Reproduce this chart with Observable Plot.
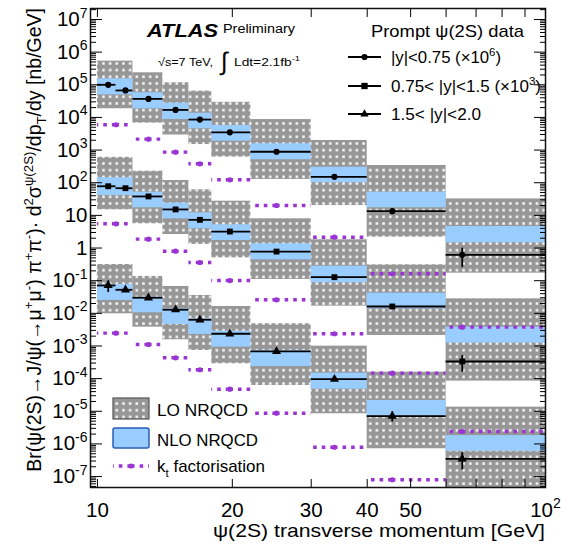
<!DOCTYPE html>
<html>
<head>
<meta charset="utf-8">
<script src="https://cdn.jsdelivr.net/npm/d3@7"></script>
<script src="https://cdn.jsdelivr.net/npm/@observablehq/plot@0.6"></script>
<style>
  html, body { margin: 0; padding: 0; background: #fff; }
  #chart svg { display: block; }
</style>
</head>
<body>
<div id="chart"></div>
<script>
// pT bin edges (GeV): theory predictions and measurement
const theoryLo = [10, 12, 14, 16, 18, 22, 30, 40, 60];
const theoryHi = [12, 14, 16, 18, 22, 30, 40, 60, 100];
const ktPt     = [11.0, 13.0, 14.94, 16.93, 19.75, 25.1, 33.8, 45.5, 65.2];
const dataLo   = [10, 11, 12, 14, 16, 18, 22, 30, 40, 60];
const dataHi   = [11, 12, 14, 16, 18, 22, 30, 40, 60, 100];
const dataPt   = [10.57, 11.55, 13.0, 14.94, 16.93, 19.75, 25.1, 33.8, 45.5, 65.2];

// |y|<0.75, values scaled by 10^6 (nb/GeV)
const c1Data   = [1.0e5, 6.7e4, 3.7e4, 1.7e4, 8.6e3, 3.5e3, 890, 152, 13.5, 0.62];
const c1Err    = [6e3, 4e3, 2e3, 1e3, 5e2, 2e2, 50, 10, 1.5, 0.37];
const c1LoMin  = [1.84e4, 6.7e3, 2.9e3, 1.48e3, 610, 126, 20, 2.15, 0.17];
const c1LoMax  = [5.3e5, 2.33e5, 1.15e5, 6.4e4, 2.9e4, 8.6e3, 1.97e3, 337, 32];
const c1NloMin = [4.9e4, 1.84e4, 8.6e3, 4.5e3, 1.87e3, 505, 100, 17.1, 1.45];
const c1NloMax = [1.53e5, 5.7e4, 2.73e4, 1.35e4, 5.66e3, 1.56e3, 299, 51.4, 4.57];
const c1Kt     = [5.96e3, 2.16e3, 863, 380, 123, 20.1, 2.15, 0.163, 3.77e-3];

// 0.75<|y|<1.5, values scaled by 10^3
const c2Data   = [78, 68, 38, 15.2, 7.3, 3.2, 0.78, 0.128, 0.0162, 3.35e-4];
const c2Err    = [5, 4, 2, 0.8, 0.4, 0.2, 0.05, 0.01, 0.002, 1.77e-4];
const c2LoMin  = [14.8, 5.53, 2.6, 1.29, 0.5, 0.109, 0.0166, 2.1e-3, 8.4e-5];
const c2LoMax  = [600, 226, 117, 60.8, 27.2, 7.87, 1.79, 0.307, 0.0279];
const c2NloMin = [40.7, 17.1, 7.87, 3.89, 1.7, 0.436, 0.0863, 0.0138, 1.22e-3];
const c2NloMax = [142, 51.4, 23.7, 12.0, 5.15, 1.35, 0.278, 0.0414, 3.77e-3];
const c2Kt     = [5.53, 1.87, 0.8, 0.36, 0.101, 0.026, 2.37e-3, 1.47e-4, 2.4e-6];

// 1.5<|y|<2.0, unscaled
const c3Data   = [0.0713, 0.0526, 0.030, 0.0129, 6.35e-3, 2.37e-3, 6.8e-4, 9.6e-5, 7.1e-6, 3.5e-7];
const c3Err    = [0.028, 0.005, 0.002, 8e-4, 4e-4, 1.5e-4, 4e-5, 6e-6, 2.4e-6, 1.9e-7];
const c3LoMin  = [9.7e-3, 3.77e-3, 1.55e-3, 7.3e-4, 2.85e-4, 6.17e-5, 8.4e-6, 7.1e-7, 3e-8];
const c3LoMax  = [0.313, 0.135, 0.0664, 0.0352, 0.0162, 4.79e-3, 9.9e-4, 1.58e-4, 1.34e-5];
const c3NloMin = [0.0248, 0.0104, 4.55e-3, 2.25e-3, 9.2e-4, 2.35e-4, 4.75e-5, 7.1e-6, 5.9e-7];
const c3NloMax = [0.0766, 0.0313, 0.0138, 6.8e-3, 2.84e-3, 7.3e-4, 1.47e-4, 2.14e-5, 1.8e-6];
const c3Kt     = [2.47e-3, 1.11e-3, 4.35e-4, 1.87e-4, 4.75e-5, 8.75e-6, 7.9e-7, 8.0e-8, null];

// axis ticks
const yMajor = [1e-7, 1e-6, 1e-5, 1e-4, 1e-3, 1e-2, 1e-1, 1, 10, 100, 1e3, 1e4, 1e5, 1e6, 1e7];
const xMajor = [10, 20, 30, 40, 50, 60, 70, 80, 90, 100];
const xLabels = [10, 20, 30, 40, 50, 60, 100];

const xDomain = [9.65, 100];
const yDomain = [4.63e-8, 2.17e7];
const KT = "#9a35d4";
const NLO = "#99ccff";

const series = [
  {symbol: "circle", data: c1Data, err: c1Err, loMin: c1LoMin, loMax: c1LoMax, nloMin: c1NloMin, nloMax: c1NloMax, kt: c1Kt},
  {symbol: "square", data: c2Data, err: c2Err, loMin: c2LoMin, loMax: c2LoMax, nloMin: c2NloMin, nloMax: c2NloMax, kt: c2Kt},
  {symbol: "triangle", data: c3Data, err: c3Err, loMin: c3LoMin, loMax: c3LoMax, nloMin: c3NloMin, nloMax: c3NloMax, kt: c3Kt}
];

const theoryRows = series.flatMap((s) => theoryLo.map((lo, i) => ({
  lo, hi: theoryHi[i], pt: ktPt[i],
  loMin: s.loMin[i], loMax: s.loMax[i], nloMin: s.nloMin[i], nloMax: s.nloMax[i], kt: s.kt[i]
})));
const ktRows = theoryRows.filter((d) => d.kt != null);
const dataRows = series.flatMap((s) => dataLo.map((lo, i) => ({
  lo, hi: dataHi[i], pt: dataPt[i], v: s.data[i], err: s.err[i], symbol: s.symbol
})));

// minor log ticks 2..9 x 10^k inside the y range
const yMinor = [];
for (let e = -8; e <= 7; e++) for (let m = 2; m <= 9; m++) {
  const v = m * Math.pow(10, e);
  if (v > yDomain[0] && v < yDomain[1]) yMinor.push(v);
}

const powLabel = (d) => {
  const e = Math.round(Math.log10(d));
  return e === 0 ? "1" : e === 1 ? "10" : "10^" + e;
};

const plot = Plot.plot({
  width: 561,
  height: 551,
  marginLeft: 90,
  marginRight: 16,
  marginTop: 8,
  marginBottom: 64,
  style: {fontFamily: "'Liberation Sans', Arial, Helvetica, sans-serif", fontSize: "20px", background: "#fff", color: "#000"},
  x: {type: "log", domain: xDomain},
  y: {type: "log", domain: yDomain},
  marks: [
    // LO NRQCD bands
    Plot.rect(theoryRows, {x1: "lo", x2: "hi", y1: "loMin", y2: "loMax", fill: "url(#lo-dots)", clip: true}),
    // NLO NRQCD bands
    Plot.rect(theoryRows, {x1: "lo", x2: "hi", y1: "nloMin", y2: "nloMax", fill: NLO, clip: true}),
    // kt factorisation: dashed from the centre outwards
    Plot.ruleY(ktRows, {y: "kt", x1: "pt", x2: "lo", stroke: KT, strokeWidth: 3.4, strokeDasharray: "3.6,5", clip: true}),
    Plot.ruleY(ktRows, {y: "kt", x1: "pt", x2: "hi", stroke: KT, strokeWidth: 3.4, strokeDasharray: "3.6,5", clip: true}),
    Plot.dot(ktRows, {x: "pt", y: "kt", r: 2.6, fill: KT, clip: true}),
    // measurement
    Plot.ruleY(dataRows, {y: "v", x1: "lo", x2: "hi", stroke: "#000", strokeWidth: 1.8, clip: true}),
    Plot.ruleX(dataRows, {x: "pt", y1: (d) => d.v - d.err, y2: (d) => d.v + d.err, stroke: "#000", strokeWidth: 1.8, clip: true}),
    Plot.dot(dataRows.filter((d) => d.symbol === "circle"), {x: "pt", y: "v", symbol: "circle", r: 3.1, fill: "#000", clip: true}),
    Plot.dot(dataRows.filter((d) => d.symbol === "square"), {x: "pt", y: "v", symbol: "square", r: 3.3, fill: "#000", clip: true}),
    Plot.dot(dataRows.filter((d) => d.symbol === "triangle"), {x: "pt", y: "v", symbol: "triangle", r: 3.4, fill: "#000", clip: true}),
    Plot.frame({stroke: "#111", strokeWidth: 1.5}),
    // tick marks drawn inside the frame
    Plot.axisY(yMajor, {anchor: "left", tickSize: -12, fill: "none", label: null}),
    Plot.axisY(yMinor, {anchor: "left", tickSize: -6, fill: "none", label: null}),
    Plot.axisY(yMajor, {anchor: "right", tickSize: -12, fill: "none", label: null}),
    Plot.axisY(yMinor, {anchor: "right", tickSize: -6, fill: "none", label: null}),
    Plot.axisX(xMajor, {anchor: "bottom", tickSize: -8, fill: "none", label: null}),
    Plot.axisX(xMajor, {anchor: "top", tickSize: -8, fill: "none", label: null}),
    // tick labels
    Plot.axisY(yMajor, {anchor: "left", tickSize: 0, tickPadding: 3, tickFormat: powLabel, fontSize: 20.5, label: null}),
    Plot.axisX(xLabels, {anchor: "bottom", tickSize: 0, tickPadding: 14.5, tickFormat: (d) => (d === 100 ? "10^2" : String(d)), fontSize: 20.5, label: null})
  ]
});

document.getElementById("chart").appendChild(plot);

const svg = d3.select(plot);

// dotted fill used for the LO NRQCD bands
const defs = svg.insert("defs", ":first-child");
const pat = defs.append("pattern").attr("id", "lo-dots").attr("patternUnits", "userSpaceOnUse")
  .attr("width", 6.67).attr("height", 6.67);
pat.append("rect").attr("width", 6.67).attr("height", 6.67).attr("fill", "#979797");
pat.append("rect").attr("x", 2.2).attr("y", 2.2).attr("width", 2.4).attr("height", 2.4).attr("fill", "#fff");

// powers of ten as superscripts
svg.selectAll('g[aria-label="y-axis tick label"] text, g[aria-label="x-axis tick label"] text').each(function () {
  const m = /^10\^(.+)$/.exec(this.textContent);
  if (m) {
    const t = d3.select(this);
    t.text("10");
    t.append("tspan").attr("dy", -8.5).attr("font-size", 14).text(m[1]);
  }
});

// text with super/subscript parts: [string, "sup"|"sub"|null]
function rich(sel, parts, fs) {
  let shift = 0;
  for (const [s, kind] of parts) {
    const target = kind === "sup" ? -0.42 * fs : kind === "sub" ? 0.28 * fs : 0;
    const ts = sel.append("tspan").attr("dy", target - shift).text(s);
    if (kind) ts.attr("font-size", 0.68 * fs);
    shift = target;
  }
  return sel;
}
// plain or rich text stretched to a given width
function label(x, y, fs, parts, width, extra = {}) {
  const t = g.append("text").attr("x", x).attr("y", y).attr("font-size", fs);
  for (const k in extra) t.attr(k, extra[k]);
  if (typeof parts === "string") t.text(parts); else rich(t, parts, fs);
  if (width) t.attr("textLength", width).attr("lengthAdjust", "spacingAndGlyphs");
  return t;
}

const g = svg.append("g").attr("fill", "#000").attr("text-anchor", "start");

// experiment label
label(147, 37, 17.5, "ATLAS", 71, {"font-weight": "bold", "font-style": "italic"});
label(223, 33, 12, "Preliminary", 72);
label(158, 66, 11.5, "√s=7 TeV,", 55);
label(221, 70, 25, "∫", null, {"font-weight": "300"});
label(234, 66, 11.5, [["Ldt=2.1fb", null], ["-1", "sup"]], 66);

// data legend
label(371, 37, 17, "Prompt ψ(2S) data", 153);
const legendRows = [
  {y: 57, symbol: d3.symbolCircle, size: Math.PI * 3.1 * 3.1, parts: [["|y|<0.75 (×10", null], ["6", "sup"], [")", null]], w: 110},
  {y: 86, symbol: d3.symbolSquare, size: 40, parts: [["0.75< |y|<1.5 (×10", null], ["3", "sup"], [")", null]], w: 150},
  {y: 114, symbol: d3.symbolTriangle, size: 30, parts: [["1.5< |y|<2.0", null]], w: 90}
];
for (const row of legendRows) {
  g.append("line").attr("x1", 348).attr("x2", 381).attr("y1", row.y).attr("y2", row.y)
    .attr("stroke", "#000").attr("stroke-width", 1.8);
  g.append("path").attr("transform", `translate(364.5,${row.y})`)
    .attr("d", d3.symbol(row.symbol, row.size)()).attr("fill", "#000");
  label(391, row.y + 6, 16, row.parts, row.w);
}

// theory legend
g.append("rect").attr("x", 113).attr("y", 398).attr("width", 36).attr("height", 21)
  .attr("fill", "url(#lo-dots)").attr("stroke", "#555").attr("stroke-width", 1.2);
label(157, 416, 17, "LO NRQCD", 91);
g.append("rect").attr("x", 113).attr("y", 428).attr("width", 36).attr("height", 20).attr("rx", 2)
  .attr("fill", NLO).attr("stroke", "#2a5cb8").attr("stroke-width", 1.5);
label(157, 446, 17, "NLO NRQCD", 101);
for (const x2 of [113, 149]) {
  g.append("line").attr("x1", 131).attr("x2", x2).attr("y1", 466).attr("y2", 466)
    .attr("stroke", KT).attr("stroke-width", 3.4).attr("stroke-dasharray", "3.6,5");
}
g.append("circle").attr("cx", 131).attr("cy", 466).attr("r", 2.6).attr("fill", KT);
label(157, 472, 17, [["k", null], ["t", "sub"], [" factorisation", null]], 108);

// axis titles
label(213, 537, 19, "ψ(2S) transverse momentum [GeV]", 332);
rich(g.append("text").attr("transform", "translate(41,8) rotate(-90)").attr("text-anchor", "end").attr("font-size", 19.5),
  [["Br(ψ(2S)→J/ψ(→μ", null], ["+", "sup"], ["μ", null], ["-", "sup"], [") π", null], ["+", "sup"], ["π", null], ["-", "sup"],
   [")· d", null], ["2", "sup"], ["σ", null], ["ψ(2S)", "sup"], ["/dp", null], ["T", "sub"], ["/dy [nb/GeV]", null]], 19.5);
</script>
</body>
</html>
